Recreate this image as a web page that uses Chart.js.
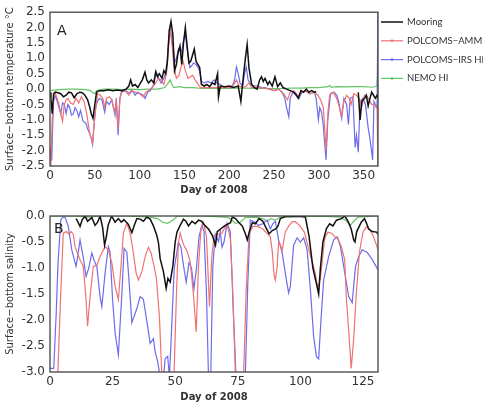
<!DOCTYPE html>
<html>
<head>
<meta charset="utf-8">
<script src="https://cdn.jsdelivr.net/npm/chart.js@4.4.0/dist/chart.umd.min.js"></script>
<style>
  html, body { margin: 0; padding: 0; background: #fff; }
  #wrap { position: relative; width: 483px; height: 404px; overflow: hidden; }
  canvas { position: absolute; left: 0; }
</style>
</head>
<body>
<div id="wrap">
  <canvas id="tempChart" width="483" height="200" style="top:0"></canvas>
  <canvas id="salChart" width="483" height="204" style="top:200px"></canvas>
</div>
<script>
// ---- data: [day, value] ----
var seriesNames = ["Mooring", "POLCOMS\u2212AMM HI", "POLCOMS\u2212IRS HI", "NEMO HI"];
var seriesColors = ["#111111", "#f07272", "#6c6cec", "#66c466"];

// panel A: surface - bottom temperature
var tempTicksX = [0, 50, 100, 150, 200, 250, 300, 350];
var tempTicksY = [-2.5, -2, -1.5, -1, -0.5, 0, 0.5, 1, 1.5, 2, 2.5];

var mooringTemp = [[0,-0.1],[1,-0.3],[2.5,-0.8],[4,-0.15],[6,-0.1],[9,-0.12],[12,-0.15],[15,-0.25],[18,-0.2],[21,-0.1],[24,-0.12],[27,-0.28],[30,-0.15],[33,-0.1],[36,-0.12],[39,-0.2],[42,-0.35],[44,-0.55],[46,-0.8],[48,-0.95],[50,-0.5],[52,-0.1],[55,-0.05],[60,-0.05],[65,-0.02],[70,-0.05],[75,-0.03],[80,-0.05],[85,0.0],[88,0.1],[90,0.3],[92,0.1],[95,0.15],[98,0.05],[101,0.2],[103,0.3],[106,0.55],[108,0.3],[110,0.2],[113,0.3],[116,0.2],[118,0.55],[120,0.4],[122,0.5],[125,0.35],[127,0.6],[129,0.5],[131,0.9],[133,1.9],[135,2.2],[137,1.8],[139,0.6],[141,0.8],[143,1.2],[145,1.4],[147,0.8],[149,1.5],[151,2.0],[153,1.4],[155,0.85],[157,0.9],[159,1.1],[161,1.3],[163,0.9],[165,0.8],[167,0.7],[169,0.15],[172,0.1],[175,0.15],[178,0.08],[181,0.2],[184,0.15],[187,0.5],[188,-0.25],[190,0.1],[195,0.08],[200,0.1],[205,0.05],[210,0.1],[213,-0.4],[215,0.2],[218,1.0],[220,1.45],[222,0.7],[225,0.15],[228,0.05],[231,0.0],[234,0.3],[236,0.4],[238,0.25],[240,0.35],[243,0.15],[245,0.25],[248,0.1],[251,0.4],[254,0.08],[257,0.2],[260,0.05],[264,0.0],[268,-0.05],[272,-0.1],[275,-0.2],[277,-0.3],[280,-0.05],[283,-0.1],[286,0.0],[289,-0.1],[292,-0.05],[295,-0.1],[297,-0.08],[320,null],[344,-0.1],[346,-1.0],[348,-0.4],[351,-0.3],[353,-0.2],[355,-0.55],[357,-0.3],[359,-0.1],[361,-0.2],[363,-0.3],[365,-0.2],[366,-0.3]];

var ammTemp = [[0,-2.5],[1,-2.4],[2.5,-1.0],[4,-0.3],[6,-0.15],[8,-0.3],[10,-0.5],[12,-0.8],[14,-1.05],[16,-0.5],[18,-0.35],[20,-0.3],[23,-0.45],[26,-0.5],[29,-0.3],[32,-0.45],[35,-0.25],[38,-0.4],[41,-0.8],[44,-1.4],[46,-1.6],[47.5,-1.75],[50,-0.9],[53,-0.15],[56,-0.2],[59,-0.3],[61,-0.6],[63,-0.3],[66,-0.25],[69,-0.35],[72,-0.75],[74,-0.4],[76,-1.3],[78,-0.3],[80,-0.05],[84,-0.05],[88,-0.2],[90,-0.05],[95,-0.1],[100,-0.15],[104,-0.25],[107,-0.1],[110,-0.05],[114,0.05],[118,0.2],[121,0.35],[124,0.3],[127,0.15],[130,0.5],[132,1.3],[134,1.95],[136,1.5],[138,0.8],[141,0.35],[144,0.45],[146,0.7],[148.5,0.9],[151,0.6],[154,0.35],[157,0.4],[159,0.45],[162,0.3],[165,0.17],[168,0.05],[175,0.05],[185,0.05],[195,0.05],[200,0.05],[205,0.15],[208,0.3],[211,0.1],[215,0.05],[219,0.1],[222,0.2],[225,0.05],[235,0.05],[245,0.0],[250,-0.05],[255,0.0],[259,-0.1],[262,-0.2],[265,-0.35],[268,-0.1],[272,-0.05],[275,-0.15],[277,-0.25],[280,-0.1],[285,-0.05],[290,-0.15],[295,-0.1],[299,-0.2],[302,-0.35],[305,-0.6],[308,-2.0],[310,-0.8],[312,-0.2],[316,-0.1],[320,-0.3],[323,-0.6],[325,-0.88],[328,-0.4],[331,-0.2],[334,-0.3],[336,-0.5],[339,-0.15],[342,-0.2],[345,-0.3],[348,-0.55],[351,-0.2],[354,-0.25],[357,-0.4],[359,-0.5],[362,-0.5],[364,-0.6],[365,-0.6],[366,-3.0]];

var irsTemp = [[0,-1.9],[1,-2.3],[2,-2.3],[3,-1.2],[4,-0.4],[6,-0.2],[8,-0.4],[10,-0.6],[12,-0.8],[14,-0.45],[16,-0.5],[18,-0.8],[20,-0.5],[22,-0.6],[24,-0.85],[26,-0.8],[28,-0.6],[30,-0.7],[32,-0.9],[34,-0.7],[37,-1.05],[40,-1.1],[42,-1.3],[44.5,-1.45],[46,-1.6],[47.5,-1.8],[49,-1.2],[51,-0.6],[53,-0.4],[55,-0.3],[58,-0.35],[61,-0.75],[63,-0.4],[66,-0.5],[69,-0.35],[72.5,-0.85],[74,-0.3],[76,-1.5],[78,-0.3],[80,-0.1],[84,-0.05],[87,-0.1],[89,-0.15],[92,-0.05],[95,-0.2],[98,-0.1],[101,-0.15],[104,-0.2],[106,-0.3],[109,-0.1],[112,-0.05],[115,0.1],[118,0.6],[120,0.45],[122,0.3],[124,0.2],[127,0.35],[130,0.6],[132,1.4],[134.5,1.95],[136,1.6],[138,1.2],[139,0.85],[141,1.0],[143.5,1.3],[145,1.35],[147,1.2],[149,1.6],[151,1.8],[153,1.3],[156,0.7],[158,0.75],[160,0.85],[163,0.8],[165,0.7],[167,0.6],[169,0.25],[172,0.2],[176,0.25],[180,0.2],[183,0.3],[186,0.2],[190,0.15],[193,0.08],[198,0.05],[203,0.05],[206,0.3],[208,0.72],[210,0.5],[212,0.2],[215,0.1],[217,0.5],[219,0.72],[221,0.3],[224,0.15],[228,0.1],[232,0.1],[236,0.05],[240,0.05],[245,0.0],[250,-0.05],[255,0.0],[259,-0.1],[262,-0.3],[264,-0.6],[266.5,-0.9],[268,-0.3],[271,-0.1],[275,-0.2],[278,-0.3],[281,-0.1],[285,-0.05],[290,-0.15],[295,-0.1],[297,-0.3],[299.5,-1.0],[301,-0.6],[303,-0.75],[305,-1.2],[308,-2.3],[310,-1.0],[313,-0.15],[317,-0.1],[320,-0.2],[322,-0.4],[325.5,-0.95],[328,-0.3],[331,-0.5],[333,-1.15],[335,-0.3],[338,-0.25],[340.5,-1.9],[342,-1.5],[344,-2.05],[346,-0.4],[349,-0.3],[352,-0.5],[355,-1.25],[357,-1.6],[360,-2.3],[361.5,-0.4],[363,-0.5],[365,-0.6],[366,3.0]];

var nemoTemp = [[0,-0.05],[10,-0.02],[20,0.0],[30,0.0],[40,-0.02],[45,-0.05],[48,-0.12],[50,-0.15],[52,-0.05],[60,0.0],[70,0.0],[80,-0.02],[90,0.0],[100,-0.02],[110,0.0],[120,0.0],[128,0.05],[132,0.2],[134,0.3],[136,0.15],[138,0.05],[145,0.08],[150,0.05],[160,0.05],[170,0.02],[180,0.03],[190,0.02],[200,0.02],[210,0.03],[220,0.03],[230,0.02],[240,0.02],[250,0.02],[260,0.02],[270,0.03],[280,0.03],[290,0.05],[300,0.05],[310,0.08],[312,0.12],[314,0.06],[320,0.08],[330,0.07],[340,0.08],[350,0.08],[360,0.06],[365,0.1],[366,0.8]];

// panel B: surface - bottom salinity
var salTicksX = [0, 25, 50, 75, 100, 125];
var salTicksY = [-3, -2.5, -2, -1.5, -1, -0.5, 0];

var mooringSal = [[10.4,-0.05],[11,-0.1],[12,-0.2],[12.8,-0.08],[14,0.0],[15,-0.1],[16.7,-0.03],[18,-0.18],[19,-0.12],[20,0.0],[21,-0.22],[21.8,-0.56],[22.5,-0.4],[23.2,-0.18],[24.6,0.0],[26,-0.12],[27.3,-0.05],[28.5,-0.12],[29.5,-0.07],[31.3,-0.16],[32.7,-0.32],[33.5,-0.2],[34.7,-0.05],[36,-0.06],[37.3,-0.1],[38.7,-0.02],[40,-0.06],[41.3,-0.19],[42.7,-0.38],[43.3,-0.51],[44,-0.82],[45.3,-1.07],[46.4,-1.39],[47.1,-1.2],[48,-1.27],[49.1,-0.95],[50,-0.5],[50.7,-0.31],[52,-0.18],[53.3,-0.06],[54.3,-0.1],[55.3,-0.19],[56.7,-0.1],[58,-0.15],[59.3,-0.08],[60.5,-0.1],[62,-0.19],[63.3,-0.25],[64.8,-0.37],[66.1,-0.56],[66.8,-0.3],[68.1,-0.25],[70,-0.18],[72.1,-0.13],[72.8,-0.02],[74.1,-0.05],[75.5,-0.13],[76.8,-0.19],[78.1,-0.35],[78.8,-0.46],[79.6,-0.3],[80.8,-0.13],[82,-0.15],[83.5,-0.05],[85,-0.1],[86.1,-0.21],[87.5,-0.34],[88.8,-0.28],[90.1,-0.25],[91,-0.2],[92,-0.05],[94,-0.01],[97,-0.01],[100,-0.01],[102,-0.02],[103.5,-0.4],[105,-1.0],[106.4,-1.3],[107.3,-1.5],[108,-1.0],[109,-0.5],[110.4,-0.24],[111.7,-0.15],[113,-0.19],[114.4,-0.08],[116.4,-0.05],[117.7,0.0],[119,-0.1],[120.3,-0.25],[121.3,-0.46],[121.8,-0.5],[122.5,-0.3],[124.3,-0.12],[125.6,-0.05],[126.5,-0.15],[127.3,-0.25],[128.7,-0.3],[130.4,-0.31],[131,-0.35]];

var ammSal = [[3,-3.2],[4.2,-1.6],[5.3,-0.33],[6.5,-0.3],[7.5,-0.35],[8.5,-0.3],[9.3,-0.35],[10,-0.59],[11,-0.72],[12,-0.84],[13.3,-0.97],[14.4,-1.61],[15,-2.12],[16,-1.55],[17.3,-0.97],[18.7,-0.95],[20,-0.78],[22,-0.59],[23.3,-0.65],[24.7,-0.9],[26,-1.35],[27.3,-1.61],[28.3,-1.0],[29.3,-0.33],[30.7,-0.14],[32,-0.33],[33.3,-0.71],[34.4,-1.1],[35.3,-1.23],[36.7,-1.07],[38,-0.78],[39.3,-0.6],[40.3,-0.7],[41.5,-0.95],[42.5,-1.2],[43.7,-1.93],[44.7,-3.1],[49.5,-3.1],[50.5,-1.5],[51.3,-0.5],[52,-0.33],[53.3,-0.55],[54.7,-0.67],[56,-0.88],[57.3,-1.52],[58.4,-2.23],[59.3,-0.97],[60.3,-0.24],[61.3,-0.12],[62.5,-0.4],[63.7,-1.74],[64.6,-0.8],[65.5,-0.38],[67,-0.35],[68.7,-0.33],[70,-0.2],[70.8,-0.18],[72,-0.43],[72.8,-1.2],[73.5,-2.23],[74.1,-3.1],[77.3,-3.1],[78.3,-1.5],[79.5,-0.35],[81,-0.2],[83,-0.2],[85,-0.25],[87,-0.35],[88,-0.4],[88.8,-0.69],[89.5,-1.14],[90,-1.23],[90.7,-0.99],[91.3,-0.5],[92,-0.55],[92.7,-0.67],[94,-0.3],[95.5,-0.18],[96.8,-0.11],[98,-0.11],[99.6,-0.18],[101.6,-0.31],[103.6,-0.69],[104.9,-0.91],[105.9,-1.1],[107,-1.39],[108,-1.2],[109.7,-0.43],[111,-0.31],[112.5,-0.33],[113.7,-0.4],[115,-0.43],[116.4,-0.6],[117.7,-0.84],[118.3,-1.52],[119.6,-2.42],[120.3,-2.93],[121.3,-2.36],[122.3,-1.52],[123.6,-0.69],[125,-0.31],[126.3,-0.21],[127.5,-0.25],[129,-0.37],[130.4,-0.56],[131,-0.65]];

var irsSal = [[0,-2.93],[1.5,-2.93],[2.5,-1.84],[3.2,-0.9],[4.3,-0.08],[5,-0.02],[6,-0.02],[7.3,-0.2],[8.7,-0.65],[10.4,-0.97],[11,-0.8],[12,-0.46],[13.3,-0.8],[14.4,-1.16],[15.5,-1.0],[16.7,-0.71],[17.6,-0.85],[18.7,-0.97],[20,-1.55],[20.7,-1.74],[22,-1.1],[23.3,-0.59],[24,-0.7],[25,-1.61],[26,-2.25],[27.3,-2.67],[28.7,-1.5],[29.6,-0.62],[30.7,-0.7],[31.5,-1.2],[32.7,-2.05],[34.7,-1.78],[36,-1.55],[37.3,-1.6],[38.7,-2.03],[40,-2.45],[41.3,-2.36],[42,-2.61],[43,-2.8],[44,-3.1],[45.3,-3.1],[46,-2.74],[47,-2.7],[47.7,-3.1],[48.7,-2.03],[49.6,-1.01],[50.7,-0.69],[51.3,-0.5],[52.3,-0.6],[53.3,-0.95],[54.4,-1.27],[55.5,-0.9],[56.5,-1.0],[57.5,-1.4],[58.5,-1.0],[59.5,-0.4],[60.7,-0.18],[61.5,-0.3],[62.5,-1.5],[63.3,-3.1],[64.2,-3.1],[65,-1.0],[66,-0.35],[67.3,-0.49],[68,-0.3],[68.7,-0.6],[69.5,-0.5],[70.7,-0.14],[72,-0.3],[73.3,-1.93],[74.3,-3.1],[78,-3.1],[79,-1.3],[80,-0.08],[82,-0.12],[83.3,-0.18],[85,-0.15],[86.7,-0.08],[88,-0.25],[89,-0.15],[90,-0.1],[91.3,-0.46],[92.7,-0.7],[94.4,-1.23],[95.3,-1.48],[96,-1.35],[97.3,-0.56],[98.7,-0.42],[100,-0.5],[101.3,-0.42],[102.7,-0.65],[104,-1.42],[105.3,-2.32],[106.4,-2.7],[107.3,-2.75],[108.3,-1.95],[109.3,-1.23],[111.3,-0.78],[113.3,-0.46],[114.7,-0.4],[116,-0.59],[117.3,-0.97],[119.3,-1.55],[120.7,-1.67],[122,-0.97],[123.3,-0.78],[124.7,-0.65],[126.7,-0.7],[128.7,-0.84],[130,-0.95],[131,-1.04]];

var nemoSal = [[0,0],[5,0],[10,0],[15,-0.02],[20,0],[30,0],[40,-0.02],[43,-0.05],[45,-0.12],[47,-0.14],[49,-0.08],[51,0],[60,0],[70,-0.02],[72,-0.05],[74,-0.14],[76,-0.12],[78,-0.03],[82,-0.02],[85,-0.05],[87,-0.1],[88,-0.05],[90,-0.08],[92,-0.02],[100,-0.01],[110,-0.01],[116,-0.02],[118,-0.08],[120,-0.18],[121,-0.12],[123,-0.02],[131,0]];

// ---- drawing ----
var axisFont = "'DejaVu Sans', sans-serif";
var legendFont = "Lato, 'DejaVu Sans', sans-serif";
var textColor = "#333";

function toPoints(arr) {
  return arr.map(function (p) { return { x: p[0], y: p[1] }; });
}

function makeDatasets(list) {
  return list.map(function (arr, i) {
    return {
      label: seriesNames[i],
      data: toPoints(arr),
      borderColor: seriesColors[i],
      backgroundColor: seriesColors[i],
      borderWidth: i === 0 ? 1.5 : 1.2,
      pointRadius: 0,
      tension: 0,
      spanGaps: false
    };
  });
}

// frame box + panel letter
var framePlugin = {
  id: 'frame',
  afterDatasetsDraw: function (chart, args, opts) {
    var ctx = chart.ctx, a = chart.chartArea;
    ctx.save();
    ctx.strokeStyle = '#444';
    ctx.lineWidth = 1.3;
    ctx.strokeRect(a.left, a.top, a.right - a.left, a.bottom - a.top);
    ctx.fillStyle = '#222';
    ctx.font = '14px ' + axisFont;
    ctx.textBaseline = 'alphabetic';
    ctx.fillText(opts.letter, a.left + opts.dx, a.top + opts.dy);
    ctx.restore();
  }
};

// legend to the right of the plot box (cut by the page edge, as in the original)
var sideLegend = {
  id: 'sideLegend',
  afterDraw: function (chart, args, opts) {
    if (!opts.show) return;
    var ctx = chart.ctx, a = chart.chartArea;
    ctx.save();
    ctx.font = '9.5px ' + legendFont;
    ctx.textBaseline = 'middle';
    chart.data.datasets.forEach(function (ds, i) {
      var y = 22 + i * 18.8;
      var x0 = a.right + 3, x1 = a.right + 25;
      ctx.strokeStyle = ds.borderColor;
      ctx.lineWidth = i === 0 ? 1.5 : 1.2;
      ctx.beginPath(); ctx.moveTo(x0, y); ctx.lineTo(x1, y); ctx.stroke();
      if (i > 0) {
        ctx.fillStyle = ds.borderColor;
        ctx.beginPath(); ctx.arc((x0 + x1) / 2, y, 1.3, 0, Math.PI * 2); ctx.fill();
      }
      ctx.fillStyle = textColor;
      ctx.fillText(ds.label, x1 + 4, y);
    });
    ctx.restore();
  }
};

function makeChart(id, list, cfg) {
  return new Chart(document.getElementById(id), {
    type: 'line',
    data: { datasets: makeDatasets(list) },
    options: {
      responsive: false,
      animation: false,
      layout: { padding: { top: cfg.padTop, right: 105, left: 0, bottom: 0 } },
      plugins: {
        legend: { display: false },
        tooltip: { enabled: false },
        frame: { letter: cfg.letter, dx: cfg.letterDx, dy: cfg.letterDy },
        sideLegend: { show: cfg.legend }
      },
      scales: {
        x: {
          type: 'linear',
          min: 0,
          max: cfg.xMax,
          afterBuildTicks: function (s) { s.ticks = cfg.ticksX.map(function (v) { return { value: v }; }); },
          afterFit: function (s) { s.height = cfg.xAxisH; },
          grid: { display: false, drawTicks: false },
          border: { display: false },
          ticks: { color: textColor, font: { family: axisFont, size: 12 }, padding: 3, maxRotation: 0, autoSkip: false },
          title: { display: true, text: 'Day of 2008', color: textColor, font: { family: axisFont, size: 10, weight: 'bold' }, padding: { top: 0, bottom: cfg.xTitlePad } }
        },
        y: {
          type: 'linear',
          min: cfg.yMin,
          max: cfg.yMax,
          afterBuildTicks: function (s) { s.ticks = cfg.ticksY.map(function (v) { return { value: v }; }); },
          afterFit: function (s) { s.width = 50; },
          grid: { display: false, drawTicks: false },
          border: { display: false },
          ticks: { color: textColor, font: { family: axisFont, size: 12 }, padding: 5, autoSkip: false, callback: function (v) { return v.toFixed(1); } },
          title: { display: true, text: cfg.yTitle, color: textColor, font: { family: axisFont, size: 10 }, padding: { top: 4, bottom: 0 } }
        }
      }
    },
    plugins: [framePlugin, sideLegend]
  });
}

makeChart('tempChart', [mooringTemp, ammTemp, irsTemp, nemoTemp], {
  xMax: 366, yMin: -2.5, yMax: 2.5, ticksX: tempTicksX, ticksY: tempTicksY,
  padTop: 9, xAxisH: 34, xTitlePad: 4,
  yTitle: 'Surface\u2212bottom temperature \u00B0C',
  letter: 'A', letterDx: 7, letterDy: 23, legend: true
});

makeChart('salChart', [mooringSal, ammSal, irsSal, nemoSal], {
  xMax: 131, yMin: -3, yMax: 0, ticksX: salTicksX, ticksY: salTicksY,
  padTop: 16, xAxisH: 32, xTitlePad: 1,
  yTitle: 'Surface\u2212bottom salinity',
  letter: 'B', letterDx: 4, letterDy: 17, legend: false
});
</script>
</body>
</html>
